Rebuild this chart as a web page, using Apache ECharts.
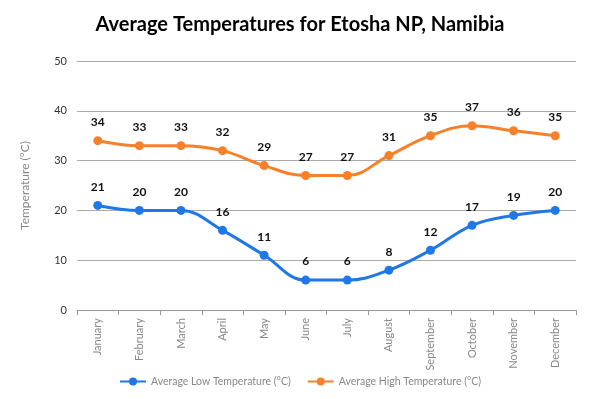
<!DOCTYPE html>
<html>
<head>
<meta charset="utf-8">
<script src="https://cdn.jsdelivr.net/npm/echarts@6/dist/echarts.min.js"></script>
<style>
  html, body { margin: 0; padding: 0; background: #fff; }
  #main { width: 600px; height: 399px; }
</style>
</head>
<body>
<div id="main"></div>
<script>
var months = ['January','February','March','April','May','June','July','August','September','October','November','December'];
var lowTemps = [21, 20, 20, 16, 11, 6, 6, 8, 12, 17, 19, 20];
var highTemps = [34, 33, 33, 32, 29, 27, 27, 31, 35, 37, 36, 35];
var yTicks = { min: 0, max: 50, interval: 10 };

var myChart = echarts.init(document.getElementById('main'));
var labelStyle = {
    show: true,
    position: 'top',
    distance: 8,
    color: '#111',
    fontWeight: 'bold',
    fontSize: 12,
    fontFamily: 'Lato'
};
var option = {
    animation: false,
    textStyle: { fontFamily: 'Lato' },
    title: {
        text: 'Average Temperatures for Etosha NP, Namibia',
        left: 'center',
        top: 10,
        textStyle: { fontSize: 20, fontWeight: 'bold', color: '#000', fontFamily: 'Lato' }
    },
    grid: {
        left: 77,
        right: 24,
        top: 61,
        bottom: 89
    },
    legend: {
        bottom: 7,
        left: 114,
        itemWidth: 26,
        itemHeight: 10,
        itemGap: 16,
        textStyle: { color: '#888', fontSize: 10.5 },
        data: ['Average Low Temperature (°C)', 'Average High Temperature (°C)']
    },
    xAxis: {
        type: 'category',
        data: months,
        axisLine: { lineStyle: { color: '#999' } },
        axisTick: { show: true, alignWithLabel: false, lineStyle: { color: '#999' } },
        axisLabel: { rotate: 90, color: '#888', fontSize: 11, interval: 0, margin: 8 }
    },
    yAxis: {
        type: 'value',
        min: yTicks.min,
        max: yTicks.max,
        interval: yTicks.interval,
        name: 'Temperature (°C)',
        nameLocation: 'middle',
        nameGap: 46,
        nameTextStyle: { color: '#888', fontSize: 12 },
        axisLine: { show: false },
        axisTick: { show: false },
        axisLabel: { color: '#333', fontSize: 11, margin: 10 },
        splitLine: { lineStyle: { color: '#aaa' } }
    },
    series: [
        {
            name: 'Average Low Temperature (°C)',
            type: 'line',
            smooth: 0.4,
            data: lowTemps,
            symbol: 'circle',
            symbolSize: 9,
            itemStyle: { color: '#1f77e8' },
            lineStyle: { width: 3, color: '#1f77e8' },
            label: labelStyle
        },
        {
            name: 'Average High Temperature (°C)',
            type: 'line',
            smooth: 0.4,
            data: highTemps,
            symbol: 'circle',
            symbolSize: 9,
            itemStyle: { color: '#f7812b' },
            lineStyle: { width: 3, color: '#f7812b' },
            label: labelStyle
        }
    ]
};
myChart.setOption(option);
</script>
</body>
</html>
